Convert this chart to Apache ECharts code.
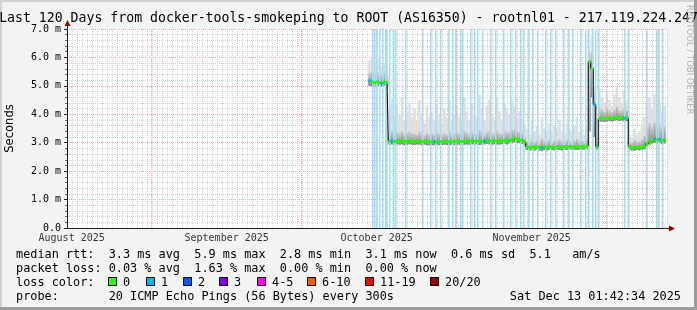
<!DOCTYPE html>
<html><head><meta charset="utf-8">
<script src="https://cdn.jsdelivr.net/npm/echarts@6/dist/echarts.min.js"></script>
<style>html,body{margin:0;padding:0;background:#f3f3f3}#c{width:697px;height:310px}</style>
</head><body><div id="c"></div>
<script>
// ---------------- data ----------------
const titleText = 'Last 120 Days from docker-tools-smokeping to ROOT (AS16350) - rootnl01 - 217.119.224.247';
const yTickLabels = ['0.0','1.0 m','2.0 m','3.0 m','4.0 m','5.0 m','6.0 m','7.0 m'];
const monthLabels = ['August 2025','September 2025','October 2025','November 2025'];
const monthLabelDays = [0.93, 31.93, 61.93, 92.93];      // days since window start (16th of month)
const monthStartDays = [16.93, 46.93, 77.93, 107.93];    // 1st of Sep, Oct, Nov, Dec
const sampleStart = 60.5, sampleStep = 0.5;              // sample grid, days since start

const median = [
  5.18,5.15,5.10,5.14,5.12,5.08,5.14,5.12,
  3.05,3.06,3.04,3.07,3.05,3.06,3.03,3.05,3.07,3.05,
  3.04,3.06,3.05,3.03,3.05,3.04,3.02,3.04,3.03,3.05,
  3.03,3.04,3.05,3.04,3.03,3.05,3.04,3.06,3.05,3.04,
  3.05,3.06,3.05,3.07,3.05,3.06,3.04,3.05,3.06,3.08,
  3.06,3.05,3.07,3.06,3.05,3.07,3.08,3.06,3.09,3.12,
  3.16,3.12,3.10,3.08,3.02,
  2.85,2.83,2.85,2.84,2.86,2.84,2.83,2.85,2.84,2.86,2.85,2.84,2.86,2.85,2.84,2.86,2.85,2.87,2.86,2.85,2.86,2.85,2.87,2.86,2.88,
  5.85,5.60,4.35,2.85,
  3.85,3.86,3.84,3.85,3.87,3.86,3.88,3.90,3.87,3.89,3.86,3.87,
  2.86,2.84,2.83,2.85,2.84,2.86,2.88,
  2.97,3.05,3.10,3.13,3.10,3.12,3.08,3.10
];
const smokeLo = [
  5.00,4.98,4.97,5.00,4.99,4.96,5.00,4.98,
  2.93,2.94,2.92,2.94,2.93,2.94,2.91,2.93,2.95,2.93,
  2.92,2.94,2.93,2.91,2.93,2.92,2.90,2.92,2.91,2.93,
  2.91,2.92,2.93,2.92,2.91,2.93,2.92,2.94,2.93,2.92,
  2.93,2.94,2.93,2.95,2.93,2.94,2.92,2.93,2.94,2.96,
  2.94,2.93,2.95,2.94,2.93,2.95,2.96,2.94,2.97,3.00,
  3.02,3.00,2.98,2.96,2.90,
  2.74,2.72,2.74,2.73,2.75,2.73,2.72,2.74,2.73,2.75,2.74,2.73,2.75,2.74,2.73,2.75,2.74,2.76,2.75,2.74,2.75,2.74,2.76,2.75,2.77,
  3.40,4.60,3.20,2.76,
  3.74,3.75,3.73,3.74,3.76,3.75,3.77,3.79,3.76,3.78,3.75,3.76,
  2.75,2.73,2.72,2.74,2.73,2.75,2.77,
  2.86,2.93,2.97,3.00,2.97,2.99,2.95,2.97
];
const smokeMid = [
  5.45,5.50,5.40,5.48,5.45,5.38,5.44,5.40,
  3.35,3.40,3.30,3.38,3.33,3.42,3.30,3.34,3.40,3.32,
  3.33,3.30,3.40,3.32,3.28,3.36,3.30,3.33,3.29,3.38,
  3.31,3.28,3.35,3.30,3.40,3.29,3.32,3.37,3.31,3.28,
  3.42,3.34,3.30,3.39,3.33,3.31,3.45,3.36,3.30,3.38,
  3.41,3.33,3.32,3.44,3.35,3.31,3.40,3.38,3.36,3.45,
  3.48,3.42,3.38,3.33,3.20,
  3.05,3.00,3.12,3.02,3.08,3.00,3.15,3.05,3.03,3.10,3.00,3.08,3.05,3.12,3.03,3.00,3.10,3.05,3.03,3.08,3.15,3.03,3.06,3.01,3.10,
  6.10,6.20,4.80,3.00,
  4.25,4.15,4.10,4.22,4.14,4.08,4.18,4.28,4.16,4.12,4.22,4.15,
  3.05,3.00,3.10,3.03,3.05,3.12,3.25,
  3.55,3.70,3.55,3.75,3.62,3.68,3.50,3.58
];
const smokeHi = [
  5.90,6.00,5.80,5.90,6.00,5.70,5.80,5.60,
  4.20,4.50,3.90,4.30,4.00,4.60,3.80,4.10,4.40,3.90,
  4.20,3.80,4.50,4.00,3.70,4.30,3.90,4.10,3.80,4.40,
  4.00,3.70,4.20,3.90,4.50,3.80,4.00,4.30,3.90,3.70,
  4.60,4.10,3.80,4.40,4.00,3.90,4.70,4.20,3.80,4.30,
  4.50,4.00,3.90,4.60,4.10,3.80,4.40,4.20,4.00,4.50,
  4.30,3.90,4.10,3.80,3.60,
  3.50,3.30,3.80,3.40,3.60,3.30,3.90,3.50,3.40,3.70,3.30,3.60,3.50,3.80,3.40,3.30,3.70,3.50,3.40,3.60,3.90,3.40,3.50,3.30,3.60,
  6.20,6.80,5.00,3.20,
  4.90,4.60,4.40,4.80,4.50,4.30,4.70,5.00,4.60,4.40,4.80,4.50,
  3.30,3.20,3.50,3.30,3.40,3.60,3.90,
  4.30,4.60,4.20,4.70,4.40,4.50,4.10,4.30
];
// days with packet loss (light blue background bars)
const lossDays = [61.0,61.4,61.8,62.4,63.0,63.6,63.8,64.4,65.2,65.6,67.6,71.0,72.6,73.6,74.6,76.2,77.0,77.6,78.6,79.0,
  80.6,81.4,82.0,83.0,84.6,85.6,87.2,88.6,89.6,90.6,91.2,92.2,93.0,94.0,95.6,96.6,97.6,99.2,100.2,101.0,
  102.6,103.6,104.2,105.0,105.6,106.2,111.4,112.2,115.8,117.8,118.2,119.0];
// median samples with 1 lost packet
const loss1Days = [60.5,63.0,65.0,73.5,83.5,95.0,105.5,111.5,117.5,118.5];

const legendMedian = 'median rtt:  3.3 ms avg  5.9 ms max  2.8 ms min  3.1 ms now  0.6 ms sd  5.1   am/s';
const legendLoss = 'packet loss: 0.03 % avg  1.63 % max  0.00 % min  0.00 % now';
const lossColorTitle = 'loss color:';
const lossColorLabels = ['0','1','2','3','4-5','6-10','11-19','20/20'];
const lossColors = ['#26ff00','#00b8ff','#0059ff','#7e00ff','#ff00ff','#ff5500','#ff0000','#a10000'];
const probeText = 'probe:       20 ICMP Echo Pings (56 Bytes) every 300s';
const dateText = 'Sat Dec 13 01:42:34 2025';
const credit = 'RRDTOOL / TOBI OETIKER';

// ---------------- chart ----------------
const days = median.map((_, i) => sampleStart + i * sampleStep);
const chart = echarts.init(document.getElementById('c'), null, {renderer: 'canvas'});
const MONO = 'DejaVu Sans Mono';
const LEG = '11.85px ' + MONO;

function bandRender(fill) {
  return function (params, api) {
    const d = api.value(0), lo = api.value(1), hi = api.value(2);
    const a = api.coord([d - sampleStep / 2, hi]);
    const b = api.coord([d + sampleStep / 2, lo]);
    return {type: 'rect', shape: {x: a[0], y: a[1], width: b[0] - a[0], height: b[1] - a[1]}, style: {fill: fill}};
  };
}

const option = {
  animation: false,
  backgroundColor: '#f3f3f3',
  grid: {left: 67, right: 30, top: 29, bottom: 82, show: true, backgroundColor: '#ffffff', borderWidth: 0,
    containLabel: false, outerBoundsMode: 'none'},
  xAxis: {
    type: 'value', min: 0, max: 120, interval: 1,
    axisLine: {show: true, lineStyle: {color: '#202020', width: 1}},
    axisTick: {show: false}, axisLabel: {show: false},
    splitLine: {show: true, lineStyle: {color: '#d4d4d4', type: [1, 1], width: 1}}
  },
  yAxis: {
    type: 'value', min: 0, max: 7, interval: 1,
    name: 'Seconds', nameLocation: 'middle', nameGap: 51, nameRotate: 90,
    nameTextStyle: {fontFamily: 'DejaVu Sans', fontSize: 11.6, color: '#000'},
    axisLine: {show: true, lineStyle: {color: '#202020', width: 1}},
    axisTick: {show: true, length: 3, lineStyle: {color: '#202020'}},
    minorTick: {show: true, splitNumber: 5, length: 2, lineStyle: {color: '#606060'}},
    minorSplitLine: {show: true, lineStyle: {color: '#d4d4d4', type: [1, 1], width: 1}},
    axisLabel: {margin: 6, fontFamily: MONO, fontSize: 10, color: '#000',
      formatter: (v) => yTickLabels[Math.round(v)]},
    splitLine: {show: true, lineStyle: {color: '#f4a4a4', type: [1, 1], width: 1}}
  },
  series: [
    { // month labels + month-start major grid lines
      type: 'scatter', z: 1, silent: true, symbolSize: 0,
      data: monthLabelDays.map((d, i) => ({name: monthLabels[i], value: [d, 0]})),
      label: {show: true, position: 'bottom', distance: 5, formatter: '{b}',
        fontFamily: MONO, fontSize: 10, color: '#000'},
      markLine: {silent: true, symbol: 'none', label: {show: false},
        lineStyle: {color: '#f4a4a4', type: [1, 1], width: 1},
        data: monthStartDays.map(d => ({xAxis: d}))}
    },
    { // smoke: light upper part
      type: 'custom', z: 2, silent: true, clip: true,
      renderItem: bandRender('#dedede'),
      encode: {x: 0, y: [1, 2]},
      data: days.map((d, i) => [d, smokeMid[i], smokeHi[i]])
    },
    { // smoke: dark lower part
      type: 'custom', z: 3, silent: true, clip: true,
      renderItem: bandRender(new echarts.graphic.LinearGradient(0, 0, 0, 1,
        [{offset: 0, color: '#cacaca'}, {offset: 0.6, color: '#9c9c9c'}, {offset: 1, color: '#808080'}])),
      encode: {x: 0, y: [1, 2]},
      data: days.map((d, i) => [d, smokeLo[i], smokeMid[i]])
    },
    { // packet loss background bars
      type: 'custom', z: 4, silent: true, clip: true,
      renderItem: function (params, api) {
        const d = api.value(0);
        const a = api.coord([d, 7]);
        const b = api.coord([d + 0.3, 0]);
        return {type: 'rect', shape: {x: a[0], y: a[1], width: Math.max(1, b[0] - a[0]), height: b[1] - a[1]},
          style: {fill: '#a3dcf4'}};
      },
      encode: {x: 0, y: 1},
      data: lossDays.map(d => [d, 7])
    },
    { // black median step line
      type: 'line', z: 5, silent: true, step: 'middle', symbol: 'none',
      lineStyle: {color: '#000', width: 1},
      data: days.map((d, i) => [d, median[i]])
    },
    { // loss-coloured median segments
      type: 'custom', z: 6, silent: true, clip: true,
      renderItem: function (params, api) {
        const d = api.value(0), m = api.value(1), l = api.value(2);
        const a = api.coord([d - sampleStep / 2, m]);
        const b = api.coord([d + sampleStep / 2, m]);
        return {type: 'line', shape: {x1: a[0], y1: a[1], x2: b[0], y2: b[1]},
          style: {stroke: lossColors[l], lineWidth: 3}};
      },
      encode: {x: 0, y: 1},
      data: days.map((d, i) => [d, median[i], loss1Days.includes(d) ? 1 : 0])
    }
  ]
};
chart.setOption(option);

// ---- decorations: title, legend, axis arrows, frame ----
const o = chart.convertToPixel({gridIndex: 0}, [0, 0]);
const tl = chart.convertToPixel({gridIndex: 0}, [0, 7]);
const br = chart.convertToPixel({gridIndex: 0}, [120, 0]);
const AX = Math.round(o[0]) + 0.5, AY = Math.round(o[1]) + 0.5;
const ARROW = '#9b0000';
const boxX = [108, 146, 183, 219, 257, 307, 365, 430];
const g = [
  {type: 'rect', shape: {x: 0, y: 0, width: 697, height: 2}, style: {fill: '#d2d2d2'}},
  {type: 'rect', shape: {x: 0, y: 0, width: 2, height: 310}, style: {fill: '#d2d2d2'}},
  {type: 'rect', shape: {x: 694, y: 0, width: 3, height: 310}, style: {fill: '#9c9c9c'}},
  {type: 'rect', shape: {x: 0, y: 307, width: 697, height: 3}, style: {fill: '#9c9c9c'}},
  {type: 'text', x: 348.5, y: 18.5, style: {text: titleText, font: '13.2px ' + MONO, fill: '#000', align: 'center', verticalAlign: 'middle'}},
  {type: 'text', x: 689, y: 5, rotation: -Math.PI / 2, style: {text: credit, font: '8.5px DejaVu Sans', fill: '#b4b4b4', align: 'left', verticalAlign: 'middle'}},
  // axis extensions + arrows
  {type: 'line', shape: {x1: AX, y1: tl[1], x2: AX, y2: tl[1] - 5}, style: {stroke: '#202020', lineWidth: 1}},
  {type: 'polygon', shape: {points: [[AX, tl[1] - 9], [AX - 3, tl[1] - 3], [AX + 3, tl[1] - 3]]}, style: {fill: ARROW}},
  {type: 'line', shape: {x1: br[0], y1: AY, x2: br[0] + 5, y2: AY}, style: {stroke: '#202020', lineWidth: 1}},
  {type: 'polygon', shape: {points: [[br[0] + 8, AY], [br[0] + 2, AY - 3], [br[0] + 2, AY + 3]]}, style: {fill: ARROW}},
  {type: 'line', shape: {x1: AX - 3, y1: AY, x2: AX, y2: AY}, style: {stroke: '#202020', lineWidth: 1}},
  // legend
  {type: 'text', x: 16, y: 254.5, style: {text: legendMedian, font: LEG, fill: '#000', verticalAlign: 'middle'}},
  {type: 'text', x: 16, y: 268.5, style: {text: legendLoss, font: LEG, fill: '#000', verticalAlign: 'middle'}},
  {type: 'text', x: 16, y: 282.5, style: {text: lossColorTitle, font: LEG, fill: '#000', verticalAlign: 'middle'}},
  {type: 'text', x: 16, y: 296.5, style: {text: probeText, font: LEG, fill: '#000', verticalAlign: 'middle'}},
  {type: 'text', x: 681, y: 296.5, style: {text: dateText, font: LEG, fill: '#000', align: 'right', verticalAlign: 'middle'}}
];
lossColorLabels.forEach((lab, i) => {
  g.push({type: 'rect', shape: {x: boxX[i] + 0.5, y: 277.5, width: 8, height: 8}, style: {fill: lossColors[i], stroke: '#000', lineWidth: 1}});
  g.push({type: 'text', x: boxX[i] + 15, y: 282.5, style: {text: lab, font: LEG, fill: '#000', verticalAlign: 'middle'}});
});
chart.setOption({graphic: {elements: g}});
</script>
</body></html>
